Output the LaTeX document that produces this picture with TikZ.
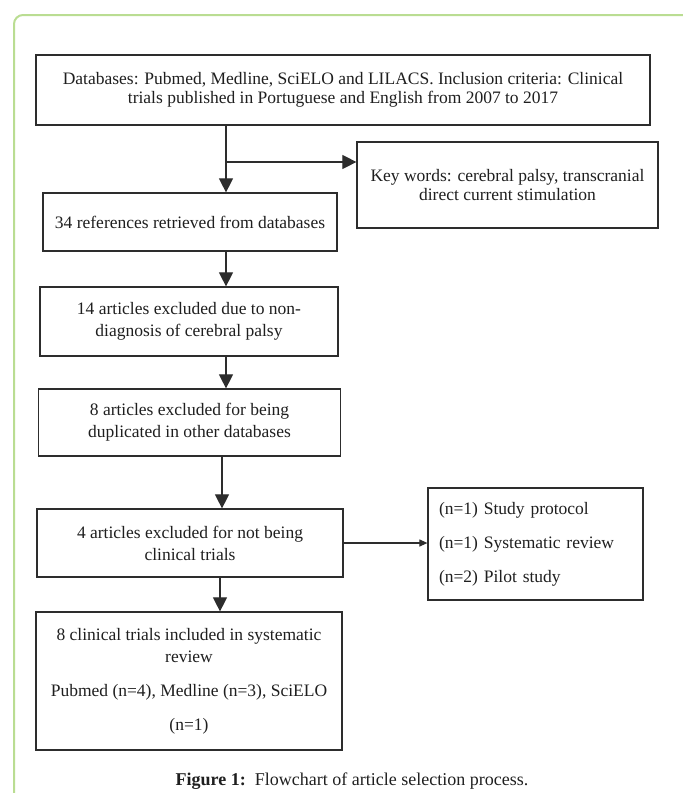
\documentclass[tikz,border=0pt]{standalone}
\usepackage{fontspec}
\setmainfont{Liberation Serif}
\usetikzlibrary{arrows.meta}
\definecolor{framegreen}{RGB}{186,221,146}
\definecolor{linegray}{RGB}{45,45,45}
\tikzset{
  flow_box/.style = {draw=linegray, line width=1.2pt, align=center, inner sep=0pt, text=black!88, font=\fontsize{17.5}{22}\selectfont},
  list_box/.style = {flow_box, align=left, inner xsep=11pt, text width=193pt},
  big_arr/.style = {draw=linegray, line width=1.1pt, -{Triangle[length=14pt,width=14pt]}},
  small_arr/.style = {draw=linegray, line width=1.1pt, -{Triangle[length=8pt,width=7pt]}}
}

\begin{document}
\begin{tikzpicture}[x=1pt, y=-1pt]
\useasboundingbox (0,0) rectangle (683,793);
\clip (0,0) rectangle (683,793);
\draw[framegreen, line width=2pt, rounded corners=9pt] (14,15) rectangle (720,840);

\node[flow_box, minimum width=614pt, minimum height=70pt, font=\fontsize{17.5}{19}\selectfont] (db) at (343,90)
  {Databases: Pubmed, Medline, SciELO and LILACS. Inclusion criteria: Clinical\\trials published in Portuguese and English from 2007 to 2017};
\node[flow_box, minimum width=301pt, minimum height=86pt, font=\fontsize{17.5}{19}\selectfont] (keys) at (507.5,185)
  {Key words: cerebral palsy, transcranial\\direct current stimulation};
\node[flow_box, minimum width=294pt, minimum height=58pt] (refs) at (190,222)
  {34 references retrieved from databases};
\node[flow_box, minimum width=298pt, minimum height=69pt] (nondiag) at (189,321.5)
  {14 articles excluded due to non-\\diagnosis of cerebral palsy};
\node[flow_box, minimum width=302pt, minimum height=67pt] (dup) at (189.5,422.5)
  {8 articles excluded for being\\duplicated in other databases};
\node[flow_box, minimum width=306pt, minimum height=68pt] (trials) at (190,543)
  {4 articles excluded for not being\\clinical trials};
\node[list_box, minimum height=112pt] (others) at (535.5,544)
  {(n=1) Study protocol\\[12pt](n=1) Systematic review\\[12pt](n=2) Pilot study};
\node[flow_box, minimum width=306pt, minimum height=138pt] (incl) at (189,681)
  {8 clinical trials included in systematic\\review\\[12pt]Pubmed (n=4), Medline (n=3), SciELO\\[12pt](n=1)};
\node[font=\fontsize{18}{22}\selectfont, text=black!88] (cap) at (352,781)
  {\textbf{Figure 1:}\ \ Flowchart of article selection process.};

\coordinate (split) at (226,162);
\draw[big_arr] (db.south -| split) -- (split |- refs.north);
\draw[big_arr] (split) -- (split -| keys.west);
\draw[big_arr] (refs.south -| split) -- (split |- nondiag.north);
\draw[big_arr] (nondiag.south -| split) -- (split |- dup.north);
\draw[big_arr] ([xshift=-4pt]dup.south -| split) -- ([xshift=-4pt]split |- trials.north);
\draw[small_arr] (trials.east) -- (trials.east -| others.west);
\draw[big_arr] ([xshift=-6pt]trials.south -| split) -- ([xshift=-6pt]split |- incl.north);
\end{tikzpicture}
\end{document}
